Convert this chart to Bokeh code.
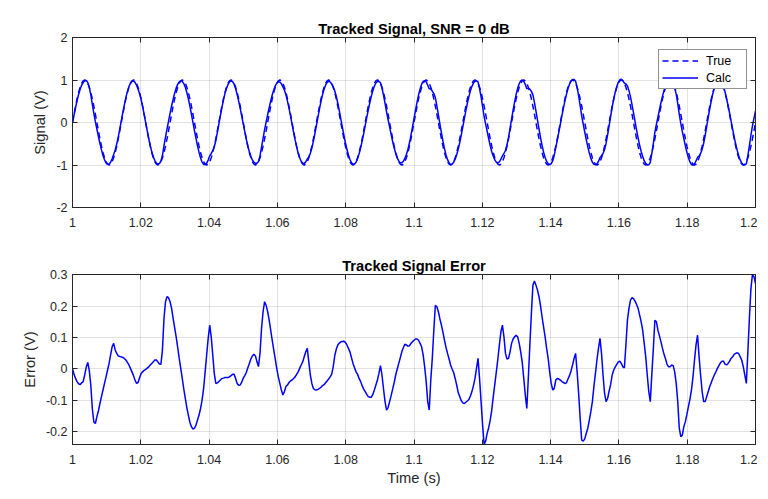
import numpy as np
from bokeh.plotting import figure
from bokeh.layouts import column
from bokeh.models import Range1d, FixedTicker, LinearAxis, Legend, LegendItem, ColumnDataSource
from bokeh.embed import file_html
from bokeh.resources import INLINE

# ---------------- data ----------------
t_start, t_end, n_samples = 1.0, 1.2, 449

true_signal = [
    0, 0.195, 0.383, 0.556, 0.707, 0.831, 0.924, 0.981, 1, 0.981, 0.924, 0.831, 0.707, 0.556, 0.383, 0.195, 0, -0.195, -0.383, -0.556, -0.707, -0.831, -0.924, -0.981, -1, -0.981, -0.924, -0.831, -0.707, -0.556, -0.383, -0.195,
    0, 0.195, 0.383, 0.556, 0.707, 0.831, 0.924, 0.981, 1, 0.981, 0.924, 0.831, 0.707, 0.556, 0.383, 0.195, 0, -0.195, -0.383, -0.556, -0.707, -0.831, -0.924, -0.981, -1, -0.981, -0.924, -0.831, -0.707, -0.556, -0.383, -0.195,
    0, 0.195, 0.383, 0.556, 0.707, 0.831, 0.924, 0.981, 1, 0.981, 0.924, 0.831, 0.707, 0.556, 0.383, 0.195, 0, -0.195, -0.383, -0.556, -0.707, -0.831, -0.924, -0.981, -1, -0.981, -0.924, -0.831, -0.707, -0.556, -0.383, -0.195,
    0, 0.195, 0.383, 0.556, 0.707, 0.831, 0.924, 0.981, 1, 0.981, 0.924, 0.831, 0.707, 0.556, 0.383, 0.195, 0, -0.195, -0.383, -0.556, -0.707, -0.831, -0.924, -0.981, -1, -0.981, -0.924, -0.831, -0.707, -0.556, -0.383, -0.195,
    0, 0.195, 0.383, 0.556, 0.707, 0.831, 0.924, 0.981, 1, 0.981, 0.924, 0.831, 0.707, 0.556, 0.383, 0.195, 0, -0.195, -0.383, -0.556, -0.707, -0.831, -0.924, -0.981, -1, -0.981, -0.924, -0.831, -0.707, -0.556, -0.383, -0.195,
    0, 0.195, 0.383, 0.556, 0.707, 0.831, 0.924, 0.981, 1, 0.981, 0.924, 0.831, 0.707, 0.556, 0.383, 0.195, 0, -0.195, -0.383, -0.556, -0.707, -0.831, -0.924, -0.981, -1, -0.981, -0.924, -0.831, -0.707, -0.556, -0.383, -0.195,
    0, 0.195, 0.383, 0.556, 0.707, 0.831, 0.924, 0.981, 1, 0.981, 0.924, 0.831, 0.707, 0.556, 0.383, 0.195, 0, -0.195, -0.383, -0.556, -0.707, -0.831, -0.924, -0.981, -1, -0.981, -0.924, -0.831, -0.707, -0.556, -0.383, -0.195,
    0, 0.195, 0.383, 0.556, 0.707, 0.831, 0.924, 0.981, 1, 0.981, 0.924, 0.831, 0.707, 0.556, 0.383, 0.195, 0, -0.195, -0.383, -0.556, -0.707, -0.831, -0.924, -0.981, -1, -0.981, -0.924, -0.831, -0.707, -0.556, -0.383, -0.195,
    0, 0.195, 0.383, 0.556, 0.707, 0.831, 0.924, 0.981, 1, 0.981, 0.924, 0.831, 0.707, 0.556, 0.383, 0.195, 0, -0.195, -0.383, -0.556, -0.707, -0.831, -0.924, -0.981, -1, -0.981, -0.924, -0.831, -0.707, -0.556, -0.383, -0.195,
    0, 0.195, 0.383, 0.556, 0.707, 0.831, 0.924, 0.981, 1, 0.981, 0.924, 0.831, 0.707, 0.556, 0.383, 0.195, 0, -0.195, -0.383, -0.556, -0.707, -0.831, -0.924, -0.981, -1, -0.981, -0.924, -0.831, -0.707, -0.556, -0.383, -0.195,
    0, 0.195, 0.383, 0.556, 0.707, 0.831, 0.924, 0.981, 1, 0.981, 0.924, 0.831, 0.707, 0.556, 0.383, 0.195, 0, -0.195, -0.383, -0.556, -0.707, -0.831, -0.924, -0.981, -1, -0.981, -0.924, -0.831, -0.707, -0.556, -0.383, -0.195,
    0, 0.195, 0.383, 0.556, 0.707, 0.831, 0.924, 0.981, 1, 0.981, 0.924, 0.831, 0.707, 0.556, 0.383, 0.195, 0, -0.195, -0.383, -0.556, -0.707, -0.831, -0.924, -0.981, -1, -0.981, -0.924, -0.831, -0.707, -0.556, -0.383, -0.195,
    0, 0.195, 0.383, 0.556, 0.707, 0.831, 0.924, 0.981, 1, 0.981, 0.924, 0.831, 0.707, 0.556, 0.383, 0.195, 0, -0.195, -0.383, -0.556, -0.707, -0.831, -0.924, -0.981, -1, -0.981, -0.924, -0.831, -0.707, -0.556, -0.383, -0.195,
    0, 0.195, 0.383, 0.556, 0.707, 0.831, 0.924, 0.981, 1, 0.981, 0.924, 0.831, 0.707, 0.556, 0.383, 0.195, 0, -0.195, -0.383, -0.556, -0.707, -0.831, -0.924, -0.981, -1, -0.981, -0.924, -0.831, -0.707, -0.556, -0.383, -0.195,
    0,
]

error_signal = [
    0, -0.018, -0.031, -0.041, -0.048, -0.051, -0.045, -0.041, -0.02, 0.005, 0.02, -0.005, -0.052, -0.127, -0.17, -0.175, -0.153, -0.135, -0.111, -0.089,
    -0.068, -0.047, -0.026, -0.004, 0.017, 0.044, 0.07, 0.081, 0.06, 0.049, 0.041, 0.039, 0.038, 0.036, 0.033, 0.028, 0.02, 0.012, 0.001, -0.01,
    -0.022, -0.036, -0.047, -0.044, -0.029, -0.015, -0.01, -0.005, -0.002, 0.002, 0.006, 0.012, 0.017, 0.022, 0.028, 0.028, 0.022, 0.015, 0.014, 0.06,
    0.16, 0.214, 0.23, 0.227, 0.214, 0.193, 0.161, 0.131, 0.102, 0.068, 0.033, 0.001, -0.031, -0.065, -0.095, -0.124, -0.148, -0.171, -0.185, -0.193,
    -0.19, -0.18, -0.164, -0.148, -0.127, -0.1, -0.063, -0.01, 0.044, 0.097, 0.139, 0.102, 0.044, -0.015, -0.047, -0.045, -0.041, -0.036, -0.031, -0.03,
    -0.028, -0.028, -0.028, -0.026, -0.022, -0.018, -0.018, -0.031, -0.047, -0.053, -0.052, -0.043, -0.03, -0.022, -0.012, 0.003, 0.017, 0.031, 0.041, 0.046,
    0.041, 0.022, 0.007, 0.05, 0.129, 0.182, 0.214, 0.203, 0.182, 0.155, 0.123, 0.091, 0.06, 0.031, 0, -0.026, -0.047, -0.068, -0.084, -0.073,
    -0.057, -0.052, -0.044, -0.039, -0.036, -0.031, -0.026, -0.018, -0.01, 0.001, 0.012, 0.022, 0.038, 0.054, 0.065, 0.022, -0.02, -0.047, -0.063, -0.067,
    -0.068, -0.066, -0.063, -0.059, -0.054, -0.051, -0.045, -0.039, -0.033, -0.026, -0.018, 0.006, 0.041, 0.062, 0.076, 0.082, 0.086, 0.087, 0.088, 0.084,
    0.076, 0.065, 0.054, 0.035, 0.017, 0.003, -0.01, -0.018, -0.031, -0.041, -0.054, -0.065, -0.073, -0.082, -0.089, -0.091, -0.091, -0.082, -0.068, -0.052,
    -0.036, -0.015, 0.01, -0.02, -0.064, -0.105, -0.132, -0.124, -0.105, -0.086, -0.065, -0.044, -0.02, -0.001, 0.017, 0.035, 0.054, 0.067, 0.078, 0.076,
    0.072, 0.073, 0.081, 0.086, 0.091, 0.095, 0.095, 0.091, 0.081, 0.07, 0.044, 0.006, -0.041, -0.105, -0.132, -0.037, 0.033, 0.123, 0.203, 0.198,
    0.182, 0.159, 0.139, 0.116, 0.091, 0.068, 0.049, 0.031, 0.012, -0.001, -0.012, -0.031, -0.052, -0.076, -0.089, -0.102, -0.109, -0.111, -0.107, -0.103,
    -0.098, -0.087, -0.073, -0.054, -0.031, 0.001, 0.033, -0.031, -0.105, -0.18, -0.242, -0.231, -0.206, -0.188, -0.164, -0.132, -0.089, -0.05, -0.01, 0.031,
    0.076, 0.118, 0.139, 0.102, 0.049, 0.031, 0.033, 0.054, 0.081, 0.095, 0.102, 0.107, 0.102, 0.081, 0.054, 0.02, -0.031, -0.084, -0.127, -0.028,
    0.076, 0.177, 0.267, 0.28, 0.267, 0.251, 0.23, 0.201, 0.166, 0.134, 0.102, 0.065, 0.033, -0.01, -0.047, -0.068, -0.063, -0.036, -0.031, -0.033,
    -0.036, -0.041, -0.044, -0.047, -0.045, -0.033, -0.022, -0.007, 0.012, 0.033, 0.049, -0.01, -0.079, -0.159, -0.228, -0.231, -0.224, -0.206, -0.19, -0.164,
    -0.137, -0.105, -0.057, -0.015, 0.028, 0.065, 0.097, 0.049, -0.02, -0.079, -0.105, -0.095, -0.071, -0.05, -0.02, -0.004, 0.006, 0.014, 0.022, 0.024,
    0.017, 0.006, 0.003, 0.076, 0.155, 0.193, 0.219, 0.227, 0.224, 0.216, 0.205, 0.193, 0.171, 0.15, 0.123, 0.081, 0.038, -0.02, -0.073, -0.105,
    -0.018, 0.065, 0.155, 0.15, 0.123, 0.105, 0.086, 0.065, 0.046, 0.031, 0.014, 0.006, 0.006, 0.012, 0.01, -0.01, -0.047, -0.105, -0.19, -0.217,
    -0.212, -0.185, -0.169, -0.146, -0.121, -0.097, -0.068, -0.026, 0.028, 0.076, 0.107, 0.038, -0.02, -0.073, -0.105, -0.105, -0.089, -0.073, -0.057, -0.044,
    -0.031, -0.02, -0.01, 0.001, 0.01, 0.019, 0.024, 0.024, 0.015, 0.012, 0.017, 0.024, 0.033, 0.038, 0.046, 0.049, 0.051, 0.048, 0.038, 0.027,
    0.006, -0.02, -0.047, 0.054, 0.161, 0.256, 0.301, 0.294, 0.272,
]

x_ticks = [1.0, 1.02, 1.04, 1.06, 1.08, 1.1, 1.12, 1.14, 1.16, 1.18, 1.2]
x_tick_labels = ["1", "1.02", "1.04", "1.06", "1.08", "1.1", "1.12", "1.14", "1.16", "1.18", "1.2"]
y1_ticks = [-2, -1, 0, 1, 2]
y1_tick_labels = ["-2", "-1", "0", "1", "2"]
y2_ticks = [-0.2, -0.1, 0.0, 0.1, 0.2, 0.3]
y2_tick_labels = ["-0.2", "-0.1", "0", "0.1", "0.2", "0.3"]

title_top = "Tracked Signal, SNR = 0 dB"
title_bottom = "Tracked Signal Error"
ylabel_top = "Signal (V)"
ylabel_bottom = "Error (V)"
xlabel_bottom = "Time (s)"
legend_labels = ["True", "Calc"]

# ---------------- derived table ----------------
t = np.linspace(t_start, t_end, n_samples)
true_arr = np.array(true_signal)
err_arr = np.array(error_signal)
calc_arr = true_arr + err_arr
src = ColumnDataSource(dict(t=t, true=true_arr, calc=calc_arr, err=err_arr))

FONT = "Liberation Sans"
AX = "#262626"
BLUE = "#0000ff"


def make_fig(title, ylabel, y_rng, yticks, ylabels, xlabel, border_top, border_bottom):
    p = figure(frame_width=683, frame_height=170, output_backend="svg", toolbar_location=None,
               x_range=Range1d(t_start, t_end), y_range=y_rng,
               min_border_left=72, min_border_right=2, min_border_top=border_top,
               min_border_bottom=border_bottom, title=title)
    p.title.text_font = FONT
    p.title.text_font_size = "14.7px"
    p.title.text_font_style = "bold"
    p.title.text_color = "#000000"
    p.title.align = "center"
    p.title.standoff = 2
    p.outline_line_color = AX
    p.outline_line_width = 1
    p.background_fill_color = "white"
    p.border_fill_color = "white"
    for ax in p.xaxis:
        ax.ticker = FixedTicker(ticks=x_ticks)
        ax.major_label_overrides = dict(zip(x_ticks, x_tick_labels))
    for ax in p.yaxis:
        ax.ticker = FixedTicker(ticks=yticks)
        ax.major_label_overrides = dict(zip(yticks, ylabels))
    for ax in p.axis:
        ax.major_tick_in = 5
        ax.major_tick_out = 0
        ax.minor_tick_line_color = None
        ax.major_tick_line_color = AX
        ax.axis_line_color = AX
        ax.major_label_text_font = FONT
        ax.major_label_text_font_size = "12.5px"
        ax.major_label_text_color = AX
        ax.axis_label_text_font = FONT
        ax.axis_label_text_font_size = "14.7px"
        ax.axis_label_text_font_style = "normal"
        ax.axis_label_text_color = AX
    p.yaxis.axis_label = ylabel
    p.yaxis.major_label_standoff = 5
    p.yaxis.axis_label_standoff = 5
    p.xaxis.major_label_standoff = 10
    if xlabel:
        p.xaxis.axis_label = xlabel
        p.xaxis.axis_label_standoff = 3
    p.xgrid.ticker = FixedTicker(ticks=x_ticks)
    p.ygrid.ticker = FixedTicker(ticks=yticks)
    p.grid.grid_line_color = AX
    p.grid.grid_line_alpha = 0.13
    # mirrored ticks on top and right (MATLAB box style), no labels
    for loc, ticks in (("right", yticks), ("above", x_ticks)):
        a = LinearAxis(ticker=FixedTicker(ticks=ticks), major_tick_in=5, major_tick_out=0,
                       minor_tick_line_color=None, major_tick_line_color=AX, axis_line_color=AX,
                       major_label_text_font_size="0px", major_label_text_color=None,
                       major_label_standoff=0)
        p.add_layout(a, loc)
    return p


p1 = make_fig(title_top, ylabel_top, Range1d(-2, 2), y1_ticks, y1_tick_labels, None, 37, 38)
r_true = p1.line("t", "true", source=src, line_color=BLUE, line_width=1.5, line_dash="6 4")
r_calc = p1.line("t", "calc", source=src, line_color=BLUE, line_width=1.5)
legend = Legend(items=[LegendItem(label=legend_labels[0], renderers=[r_true]),
                       LegendItem(label=legend_labels[1], renderers=[r_calc])],
                location=(586, 118), orientation="vertical")
legend.label_text_font = FONT
legend.label_text_font_size = "12.5px"
legend.label_text_color = "#000000"
legend.glyph_width = 36
legend.glyph_height = 15
legend.label_standoff = 8
legend.label_height = 15
legend.label_width = 37
legend.spacing = 2
legend.padding = 3
legend.margin = 0
legend.border_line_color = AX
legend.border_line_width = 1
legend.background_fill_color = "white"
legend.background_fill_alpha = 1
p1.add_layout(legend, "center")

y2_range = Range1d(min(error_signal), max(error_signal))
p2 = make_fig(title_bottom, ylabel_bottom, y2_range, y2_ticks, y2_tick_labels, xlabel_bottom, 29, 50)
p2.line("t", "err", source=src, line_color=BLUE, line_width=1.5)

layout = column(p1, p2, spacing=0)
open("out.html", "w").write(file_html(layout, INLINE))
